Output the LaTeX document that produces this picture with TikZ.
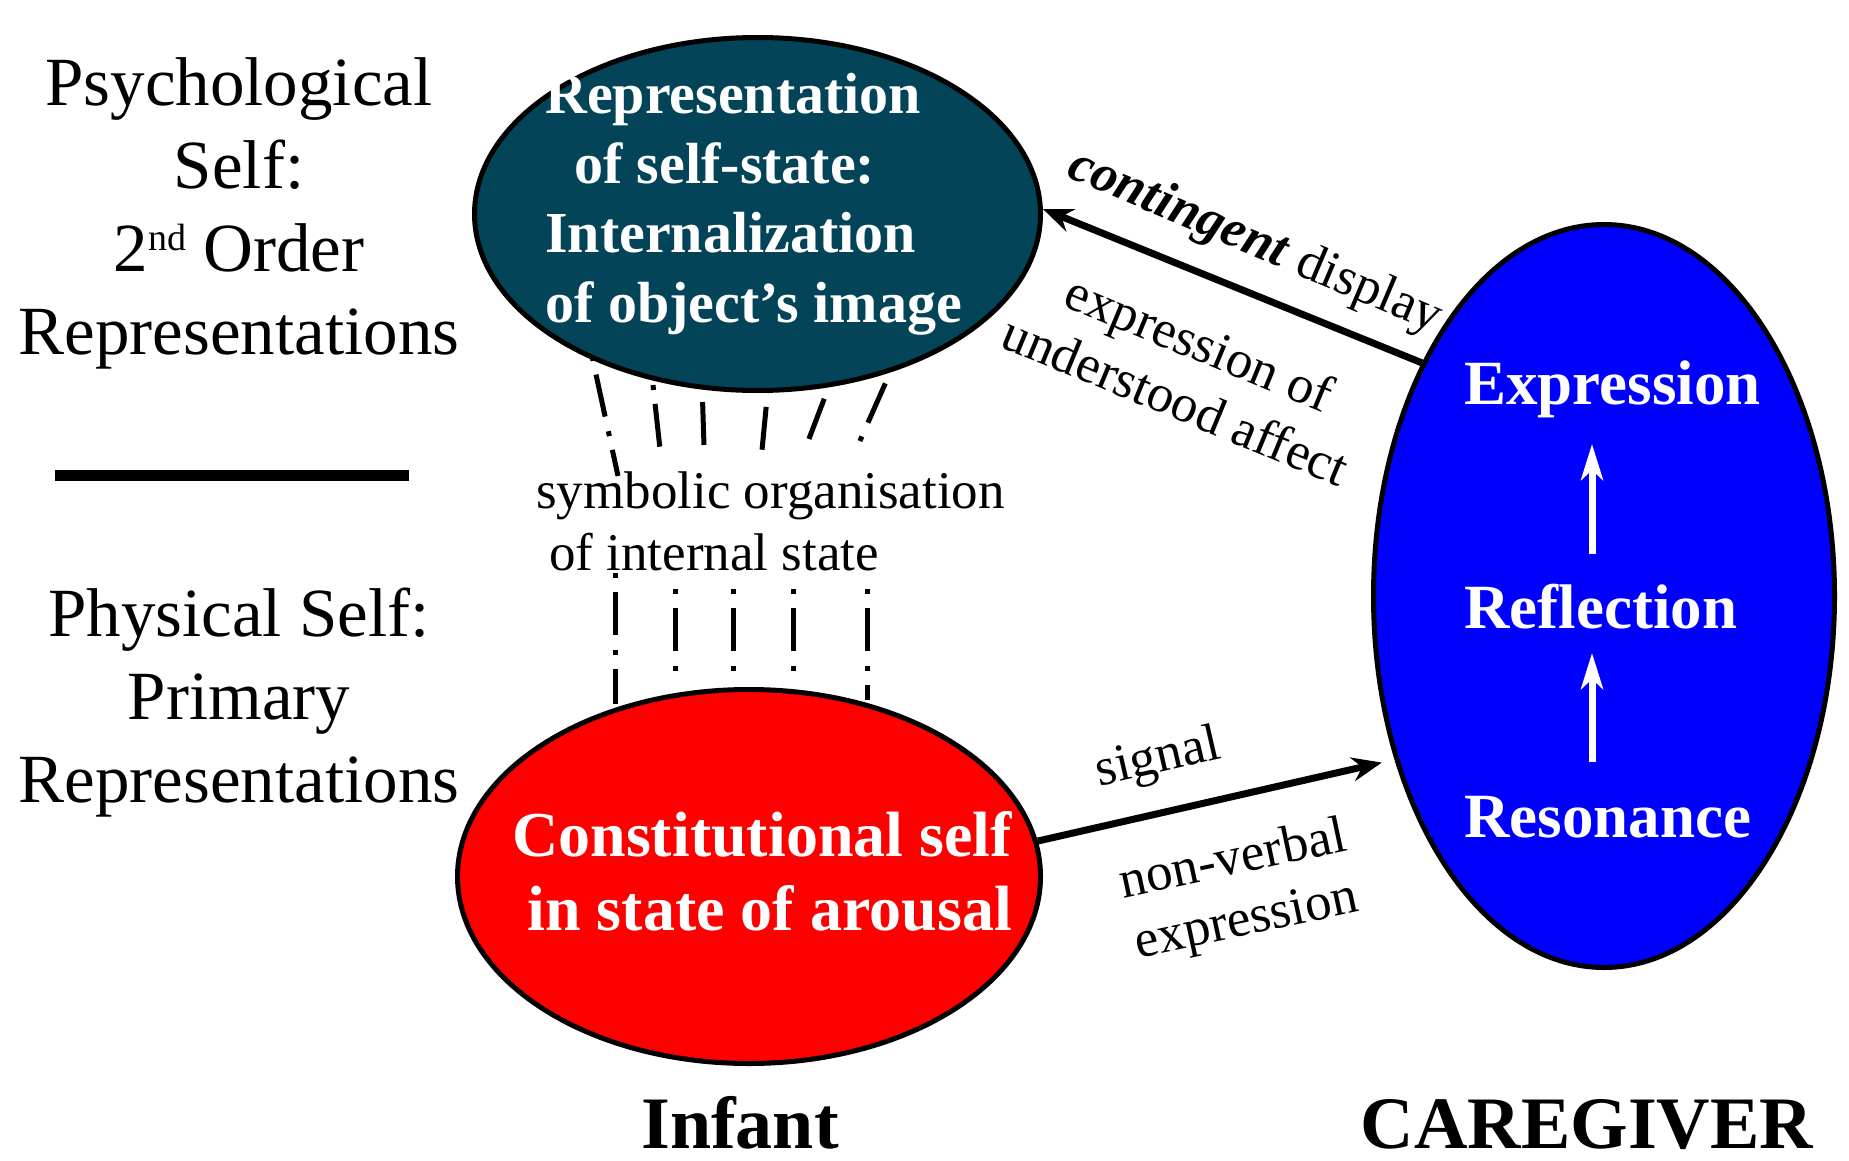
\documentclass[tikz,border=0pt]{standalone}
\usepackage{fontspec}
\setmainfont{Liberation Serif}
\usetikzlibrary{shapes.geometric,arrows.meta}
\definecolor{tealc}{RGB}{3,68,89}
\begin{document}
\begin{tikzpicture}[x=1pt,y=-1pt,
  ell/.style={ellipse,draw=black,line width=5pt,inner sep=0pt},
  lbl/.style={font=\fontsize{53}{62}\selectfont, inner sep=0pt},
  side/.style={font=\fontsize{69}{83}\selectfont, align=center, inner sep=0pt},
  wtxt/.style={text=white, inner sep=0pt},
  dd/.style={line width=5pt, dash pattern=on 5pt off 14pt on 43pt off 15pt},
  blk/.style={line width=7pt, -{Stealth[length=30pt,width=24pt,inset=10pt]}},
  wht/.style={draw=white, line width=7pt, -{Stealth[length=36pt,width=22pt,inset=10pt]}},
]
\useasboundingbox (0,0) rectangle (1849,1161);

% left side texts (anchor=base = baseline of the last line)
\node[side, anchor=base] (psy) at (239,354) {Psychological\\Self:\\2\raisebox{21pt}{\fontsize{38}{38}\selectfont nd} Order\\Representations};
\coordinate (hla) at (55,475);
\coordinate (hlb) at (409,475);
\draw[line width=11pt] (hla) -- (hlb);
\node[side, anchor=base] (phy) at (239,802) {Physical Self:\\Primary\\Representations};

% dashed links
\coordinate (u1a) at (592,356); \coordinate (u1b) at (618,476);
\coordinate (u2a) at (653,385); \coordinate (u2b) at (660,449);
\coordinate (u3a) at (702,383); \coordinate (u3b) at (704,446);
\coordinate (u4a) at (768,388); \coordinate (u4b) at (762,450);
\coordinate (u5a) at (831,381); \coordinate (u5b) at (807,444);
\coordinate (u6a) at (893,366); \coordinate (u6b) at (859,443);
\coordinate (d1a) at (615,573); \coordinate (d1b) at (615,704);
\coordinate (d2a) at (675,589); \coordinate (d2b) at (675,672);
\coordinate (d3a) at (733,589); \coordinate (d3b) at (733,672);
\coordinate (d4a) at (793,589); \coordinate (d4b) at (793,672);
\coordinate (d5a) at (867,589); \coordinate (d5b) at (867,700);
\foreach \n in {u1,u2,u3,u4,u5,u6,d1,d2,d3,d4,d5}{\draw[dd] (\n a) -- (\n b);}

% ellipses
\node[ell, fill=tealc, minimum width=566pt, minimum height=353pt] (top) at (757.5,214) {};
\node[ell, fill=red, minimum width=583pt, minimum height=374pt] (bot) at (749,876.5) {};
\node[ell, fill=blue, minimum width=461pt, minimum height=743pt] (care) at (1604,596) {};

\node[wtxt, anchor=base west, align=left, font=\bfseries\fontsize{58}{69.5}\selectfont] (toptxt) at (545,322) {Representation\\\hspace*{29pt}of self-state:\\Internalization\\of object’s image};
\node[wtxt, anchor=base east, align=right, font=\bfseries\fontsize{64}{74}\selectfont] (bottxt) at (1012,930) {Constitutional self\\in state of arousal};

\node[wtxt, anchor=base west, font=\bfseries\fontsize{63}{75}\selectfont] (expr) at (1464,404) {Expression};
\node[wtxt, anchor=base west, font=\bfseries\fontsize{63}{75}\selectfont] (refl) at (1464,628) {Reflection};
\node[wtxt, anchor=base west, font=\bfseries\fontsize{63}{75}\selectfont] (reso) at (1464,837) {Resonance};

\coordinate (w1a) at (1592,554); \coordinate (w1b) at (1592,444);
\coordinate (w2a) at (1592,762); \coordinate (w2b) at (1592,653);
\draw[wht] (w1a) -- (w1b);
\draw[wht] (w2a) -- (w2b);

% arrows
\draw[blk] (care.128) -- (top.1);
\draw[blk, shorten >=13pt] (bot.7) -- (care.218);

% labels
\node[lbl, rotate=-23] (cont) at (1255,243) {\textbf{\textit{contingent}} display};
\node[lbl, rotate=-22.5, align=center] (expaff) at (1188,371) {expression of\\understood affect};
\node[lbl, rotate=13] (sig) at (1158,760) {signal};
\node[lbl, rotate=12, align=center] (nve) at (1240,892) {non-verbal\\expression};
\node[lbl, align=left, anchor=base west] (symb) at (536,570) {symbolic organisation\\\hspace*{13pt}of internal state};

\node[font=\bfseries\fontsize{74}{80}\selectfont, anchor=base, inner sep=0pt] (inf) at (740,1148) {Infant};
\node[font=\bfseries\fontsize{74}{80}\selectfont, anchor=base, inner sep=0pt] (cg) at (1587,1148) {CAREGIVER};
\end{tikzpicture}
\end{document}
